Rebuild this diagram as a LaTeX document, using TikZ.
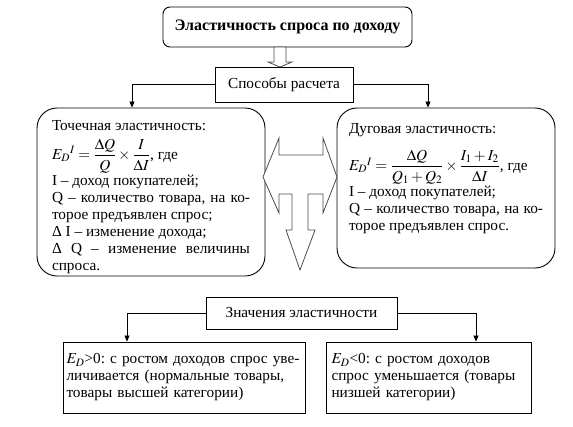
\documentclass[tikz,border=0pt]{standalone}
\usepackage{amsmath}
\usepackage{mathptmx}
\usepackage[no-math]{fontspec}
\setmainfont{Liberation Serif}
\usepackage{tikz}
\usetikzlibrary{arrows.meta}
\setlength{\parindent}{0pt}
\frenchspacing

\begin{document}
\begin{tikzpicture}[
  x=1pt, y=-1pt,
  font=\fontsize{15.3}{17}\selectfont,
  box/.style={
      draw=black,
      line width=0.9pt,
      inner sep=0pt,
      align=center
  },
  roundbox/.style={box, rounded corners=20pt},
  arr/.style={-{Triangle[length=6pt, width=5pt]}, line width=0.8pt},
  hollow/.style={draw=black!70, line width=0.8pt, fill=white}
]
\useasboundingbox (0,0) rectangle (573,426);

\node[box, rounded corners=7pt, minimum width=249pt, minimum height=40pt,
      font=\fontsize{16}{17}\selectfont\bfseries] (title) at (287.5,27) {Эластичность спроса по доходу};
\node[box, minimum width=138pt, minimum height=35pt] (ways) at (284,84.5) {Способы расчета};

\node[roundbox, minimum width=228pt, minimum height=168pt, text width=198pt, align=justify] (point) at (151,192)
  {\rule{0pt}{20pt}Точечная эластичность:\\[7pt]
   $E_D{}^I=\displaystyle\frac{\Delta Q}{Q}\times\frac{I}{\Delta I}$, где\\[1pt]
   I – доход покупателей;\\
   Q – количество товара, на ко-\linebreak торое предъявлен спрос;\\
   Δ I – изменение дохода;\\
   Δ Q – изменение величины\linebreak спроса.};
\node[roundbox, minimum width=218pt, minimum height=160pt, text width=194pt, align=justify] (arc) at (446,188)
  {Дуговая эластичность:\\[12pt]
   $E_D{}^I=\displaystyle\frac{\Delta Q}{Q_1+Q_2}\times\frac{I_1+I_2}{\Delta I}$, где\\[1pt]
   I – доход покупателей;\\
   Q – количество товара, на ко-\linebreak торое предъявлен спрос.\par\rule{0pt}{18pt}};

\node[box, minimum width=242pt, minimum height=71pt, text width=235pt, align=left] (pos) at (184,377.5)
  {$E_D$>0: с ростом доходов спрос уве-\\ личивается (нормальные товары,\\ товары высшей категории)};
\node[box, minimum width=205pt, minimum height=71pt, text width=194pt, align=left] (neg) at (428.5,377.5)
  {$E_D$<0: с ростом доходов\\ спрос уменьшается (товары\\ низшей категории)};
\node[box, minimum width=191pt, minimum height=32pt] (values) at (301.5,313) {Значения эластичности};

\draw[arr] (ways.west) -| ([xshift=-19pt]point.north);
\draw[arr] (ways.east) -| ([xshift=-18pt]arc.north);
\draw[arr] (values.west) -| ([xshift=-57pt]pos.north);
\draw[arr] (values.east) -| ([xshift=47.5pt]neg.north);

\draw[hollow] (274,47) -- (286,47) -- (286,62) -- (292,62) -- (280,67) -- (268,62) -- (274,62) -- cycle;
\draw[hollow] (279,155) -- (323,155) -- (323,138) -- (337,177) -- (323,213) -- (323,194) -- (308,194)
  -- (308,230) -- (315,230) -- (300,270) -- (286,230) -- (292,230) -- (292,194) -- (279,194)
  -- (279,213) -- (263,177) -- (279,138) -- cycle;

\end{tikzpicture}
\end{document}
